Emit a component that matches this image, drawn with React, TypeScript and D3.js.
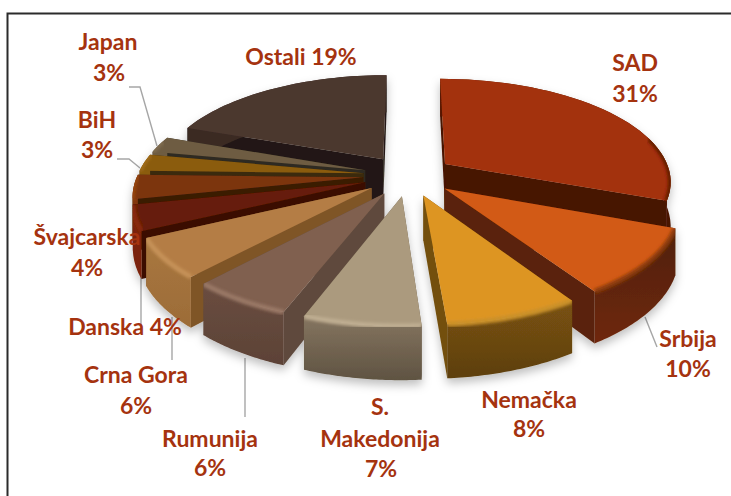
import React from "react";
import * as d3 from "d3";

const names = ["SAD", "Srbija", "Nemačka", "S. Makedonija", "Rumunija", "Crna Gora", "Danska", "Švajcarska", "BiH", "Japan", "Ostali"];
const values = [30.6, 10.1, 7.9, 6.9, 6.0, 6.0, 3.9, 3.7, 2.6, 2.5, 19.4];

const topColors = ["#a33009", "#d25a14", "#dd9524", "#ab9a7e", "#80604f", "#b47d45", "#661d07", "#7c350c", "#8b5c10", "#6e5c42", "#4c372f"];
const wallTop = ["#5c1a06", "#4f2007", "#7a5212", "#857560", "#6a4d40", "#a9773f", "#7a2409", "#86380d", "#8b5c10", "#6e5c42", "#3a2a24"];
const wallBottom = ["#471204", "#6f280b", "#5d3f10", "#5f5342", "#5c4236", "#9c6c38", "#7a2208", "#7c350c", "#8b5c10", "#6e5c42", "#3a2a24"];
const cutColors = ["#471204", "#5a2408", "#73500f", "#6a5c48", "#5f4a3d", "#7f5528", "#3a0e02", "#3a1c06", "#3a2a0c", "#2f2a20", "#221813"];
const rimColors = ["#5e1a05", "#8a3a0f", "#c9902a", "#bfae92", "#9a7866", "#c69258", "#8a2c0e", "#96450f", "#a06c14", "#7f6c50", "#3a2a24"];

// back to front
const paintOrder = ["Ostali", "SAD", "Japan", "BiH", "Švajcarska", "Danska", "Crna Gora", "Srbija", "Rumunija", "Nemačka", "S. Makedonija"];

const textColor = "#a5330f";
const leaderColor = "#a6a6a6";

// label lines: text, centre x, baseline
const labelLines: [string, number, number][] = [
    ["Ostali 19%", 301, 65],
    ["SAD", 635, 71],
    ["31%", 635, 102],
    ["Japan", 108, 50],
    ["3%", 109, 81],
    ["BiH", 97, 128],
    ["3%", 97, 158],
    ["Švajcarska", 87, 245],
    ["4%", 87, 276],
    ["Danska 4%", 125, 335],
    ["Crna Gora", 136, 383],
    ["6%", 136, 414],
    ["Rumunija", 210, 447],
    ["6%", 210, 476],
    ["S.", 380, 415],
    ["Makedonija", 380, 447],
    ["7%", 381, 477],
    ["Nemačka", 529, 408],
    ["8%", 529, 437],
    ["Srbija", 688, 347],
    ["10%", 688, 377],
];

const leaders: [number, number][][] = [
    [[129, 87], [140, 87], [157, 146]],
    [[117, 159], [129, 159], [140, 168]],
    [[141, 275], [141, 325]],
    [[172, 317], [172, 360]],
    [[245, 358], [245, 417]],
    [[645, 317], [657, 347]],
];

const cx = 408.5;
const cy = 175.5;
const R = 226;
const K = 102;
const persp = 0.157;
const T = 44;
const explode = 0.2;

function project(X: number, v: number, z: number): [number, number] {
    const s = 1 / (1 - persp * v);
    return [cx + X * R * s, cy + v * K * s + z * T * s];
}

const line = d3.line<[number, number]>();
const pie = d3.pie<number>().sort(null).startAngle(0).endAngle(2 * Math.PI);

function buildSlice(a0: number, a1: number) {
    const mid = (a0 + a1) / 2;
    const ox = explode * Math.sin(mid);
    const ov = -explode * Math.cos(mid);
    const rimPoint = (a: number, z: number) => project(ox + Math.sin(a), ov - Math.cos(a), z);
    const steps = d3.range(0, 41).map(i => a0 + (a1 - a0) * i / 40);
    const rimTop = steps.map(a => rimPoint(a, 0));
    const rimBottom = steps.map(a => rimPoint(a, 1));
    const apexTop = project(ox, ov, 0);
    const apexBottom = project(ox, ov, 1);
    const cut = (a: number) => line([apexTop, rimPoint(a, 0), rimPoint(a, 1), apexBottom]) + "Z";
    // only the part of the rim that faces the viewer gets a bevel
    const facing = steps.filter(a => Math.cos(a) < 0.3).map(a => rimPoint(a, 0));
    return {
        top: line([apexTop, ...rimTop]) + "Z",
        wall: line([...rimTop, ...rimBottom.slice().reverse()]) + "Z",
        cutStart: cut(a0),
        cutEnd: cut(a1),
        rim: facing.length > 1 ? (line(facing) as string) : "",
    };
}

export default function App() {
    const arcs = pie(values);
    return (
        <svg width={731} height={496} style={{ position: "absolute", left: 0, top: 0, display: "block", background: "#fff" }}
            fontFamily="Lato, 'Open Sans', sans-serif">
            <defs>
                <filter id="pieShadow" x="-10%" y="-10%" width="120%" height="125%">
                    <feDropShadow dx="0" dy="5" stdDeviation="5" floodColor="#000" floodOpacity="0.25" />
                </filter>
                <filter id="rimBlur" x="-10%" y="-10%" width="120%" height="120%">
                    <feGaussianBlur stdDeviation="1.8" />
                </filter>
                {names.map((n, i) => (
                    <linearGradient key={n} id={`wall${i}`} x1="0" y1="0" x2="0" y2="1">
                        <stop offset="0%" stopColor={wallTop[i]} />
                        <stop offset="100%" stopColor={wallBottom[i]} />
                    </linearGradient>
                ))}
            </defs>

            <rect x={7.5} y={13.5} width={800} height={600} fill="none" stroke="#2b2b2b" strokeWidth={2} />

            {leaders.map((pts, i) => (
                <path key={i} d={line(pts) as string} fill="none" stroke={leaderColor} strokeWidth={1.4} />
            ))}

            <g filter="url(#pieShadow)">
                {paintOrder.map(name => {
                    const i = names.indexOf(name);
                    const slice = buildSlice(arcs[i].startAngle, arcs[i].endAngle);
                    return (
                        <g key={name}>
                            <clipPath id={`clip${i}`}>
                                <path d={slice.top} />
                                <path d={slice.wall} />
                            </clipPath>
                            <path d={slice.cutStart} fill={cutColors[i]} />
                            <path d={slice.cutEnd} fill={cutColors[i]} />
                            <path d={slice.wall} fill={`url(#wall${i})`} />
                            <path d={slice.top} fill={topColors[i]} />
                            <g clipPath={`url(#clip${i})`}>
                                <path d={slice.rim} fill="none" stroke={rimColors[i]} strokeWidth={5} filter="url(#rimBlur)" />
                            </g>
                        </g>
                    );
                })}
            </g>

            {labelLines.map(([t, x, y], i) => (
                <text key={i} x={x} y={y} textAnchor="middle" fontSize={23} fontWeight={700} fill={textColor}>{t}</text>
            ))}
        </svg>
    );
}
